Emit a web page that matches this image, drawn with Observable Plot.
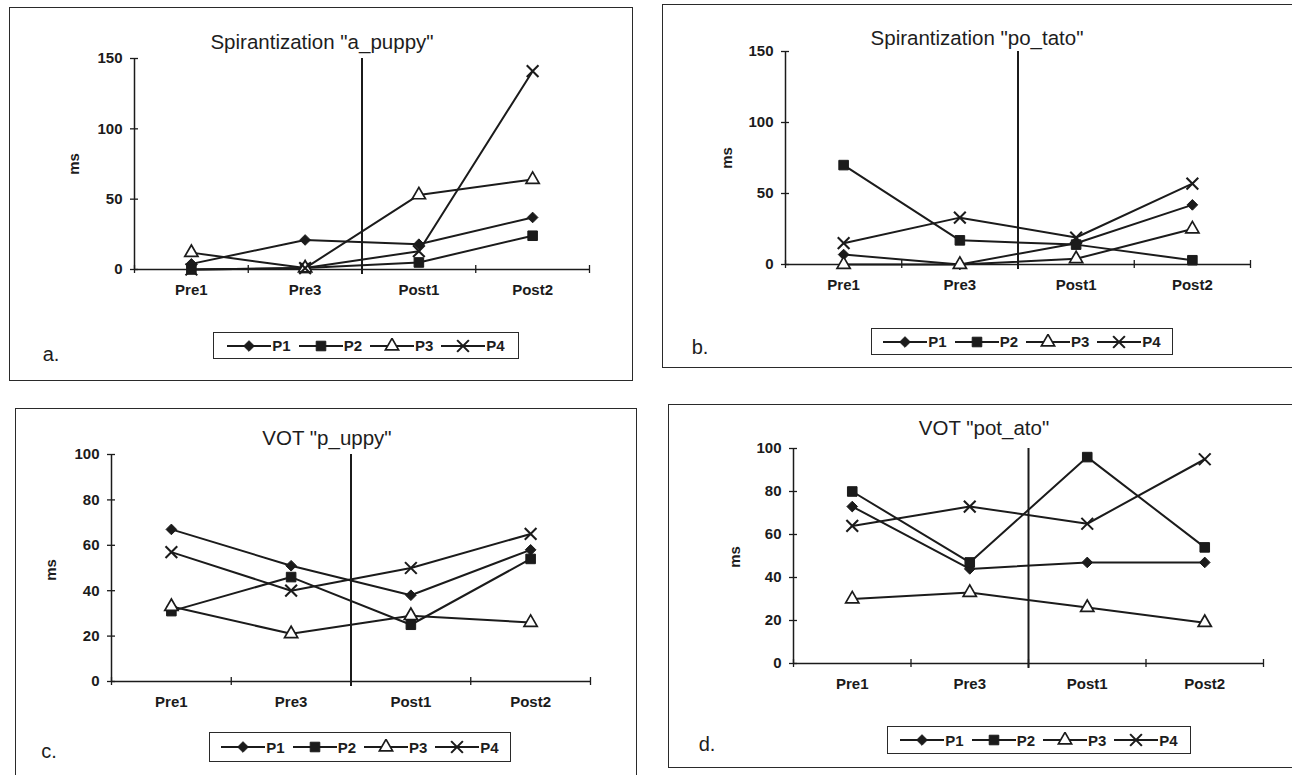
<!DOCTYPE html>
<html>
<head>
<meta charset="utf-8">
<script src="https://cdn.jsdelivr.net/npm/d3@7"></script>
<script src="https://cdn.jsdelivr.net/npm/@observablehq/plot@0.6"></script>
<style>
  body { margin: 0; background: #fff; }
  #root { position: relative; width: 1292px; height: 775px; overflow: hidden; background: #fff;
          font-family: 'Liberation Sans', Arial, Helvetica, sans-serif; color: #1d1d1d; }
  .box { position: absolute; border: 1.5px solid #2a2a2a; box-sizing: border-box; }
  .title { position: absolute; white-space: nowrap; font-size: 20.5px; transform: translate(-50%, -50%); }
  .letter { position: absolute; font-size: 20px; transform: translate(-50%, -50%); }
  .ms { position: absolute; font-size: 15px; font-weight: bold; transform: translate(-50%, -50%) rotate(-90deg); }
  .legend { position: absolute; border: 1.5px solid #2a2a2a; box-sizing: border-box; display: flex;
            align-items: center; justify-content: center; }
  .legend .item { display: flex; align-items: center; margin: 0 4px; }
  .legend span { font-size: 15px; font-weight: bold; margin-left: 1px; }
</style>
</head>
<body>
<div id="root"></div>
<script>
// ---------------- data ----------------
const categories = ["Pre1", "Pre3", "Post1", "Post2"];
const seriesNames = ["P1", "P2", "P3", "P4"];
const panelTitles = ['Spirantization "a_puppy"', 'Spirantization "po_tato"', 'VOT "p_uppy"', 'VOT "pot_ato"'];
const panelLetters = ["a.", "b.", "c.", "d."];
const axisLabel = "ms";

// rows: P1, P2, P3, P4 ; columns: Pre1, Pre3, Post1, Post2
const spirantizationPuppy = [[4, 21, 18, 37], [0, 1, 5, 24], [12, 1, 53, 64], [0, 1, 13, 141]];
const spirantizationPotato = [[7, 0, 15, 42], [70, 17, 14, 3], [0, 0, 4, 25], [15, 33, 19, 57]];
const votPuppy = [[67, 51, 38, 58], [31, 46, 25, 54], [33, 21, 29, 26], [57, 40, 50, 65]];
const votPotato = [[73, 44, 47, 47], [80, 47, 96, 54], [30, 33, 26, 19], [64, 73, 65, 95]];

const spirantizationTicks = [0, 50, 100, 150];
const votTicks = [0, 20, 40, 60, 80, 100];
const dividerAfter = "Pre3"; // vertical line between Pre3 and Post1

// ---------------- styling / layout ----------------
const ink = "#1b1b1b";
const markerStyles = [
  {symbol: "diamond2", d3: d3.symbolDiamond2, r: 4.8, fill: ink, stroke: ink, strokeWidth: 1},
  {symbol: "square", d3: d3.symbolSquare, r: 5.4, fill: ink, stroke: ink, strokeWidth: 1},
  {symbol: "triangle", d3: d3.symbolTriangle, r: 4.9, fill: "white", stroke: ink, strokeWidth: 1.7},
  {symbol: "times", d3: d3.symbolTimes, r: 5.4, fill: "none", stroke: ink, strokeWidth: 2.1}
];

const panelValues = [spirantizationPuppy, spirantizationPotato, votPuppy, votPotato];
const panelTicks = [spirantizationTicks, spirantizationTicks, votTicks, votTicks];

const layouts = [
  {box: [9, 7, 633, 381], plot: [134, 58, 589, 269], title: [322, 42], legend: [213, 332, 519, 359], letter: [51, 354], ms: [73, 164]},
  {box: [662, 4, 1300, 368], plot: [785, 51, 1250, 264], title: [977, 38], legend: [871, 328, 1173, 355], letter: [700, 347], ms: [726, 158]},
  {box: [15, 408, 637, 790], plot: [111, 454, 590, 681], title: [327, 438], legend: [209, 732, 511, 762], letter: [49, 751], ms: [50, 570]},
  {box: [668, 404, 1300, 768], plot: [793, 448, 1263, 663], title: [984, 428], legend: [887, 726, 1191, 754], letter: [707, 744], ms: [734, 557]}
];

const root = document.getElementById("root");
const W = 1292;

function place(cls, x, y, text) {
  const d = document.createElement("div");
  d.className = cls;
  d.style.left = x + "px";
  d.style.top = y + "px";
  if (text != null) d.textContent = text;
  root.appendChild(d);
  return d;
}

function legendSwatch(ms) {
  const w = 44, h = 16;
  const svg = d3.create("svg").attr("width", w).attr("height", h);
  svg.append("line").attr("x1", 0).attr("x2", w).attr("y1", h / 2).attr("y2", h / 2)
    .attr("stroke", ink).attr("stroke-width", 2);
  svg.append("path")
    .attr("d", d3.symbol(ms.d3, Math.PI * ms.r * ms.r)())
    .attr("transform", `translate(${w / 2},${h / 2})`)
    .attr("fill", ms.fill).attr("stroke", ms.stroke).attr("stroke-width", ms.strokeWidth);
  return svg.node();
}

panelValues.forEach((values, p) => {
  const L = layouts[p];
  const yTicks = panelTicks[p];
  const yMax = d3.max(yTicks);
  const n = categories.length;

  // panel frame
  const box = place("box", L.box[0], L.box[1]);
  box.style.width = (L.box[2] - L.box[0]) + "px";
  box.style.height = (L.box[3] - L.box[1]) + "px";

  // chart
  const svgLeft = L.box[0] + 2, svgTop = L.box[1] + 2;
  const svgWidth = Math.min(L.box[2], W) - 2 - svgLeft;
  const svgHeight = L.plot[3] - svgTop + 40;
  const rows = values.flatMap((vals, s) => vals.map((v, c) => ({series: seriesNames[s], cat: c, value: v})));
  const bounds = d3.range(n + 1).map(i => i - 0.5);
  const divider = categories.indexOf(dividerAfter) + 0.5;

  const marks = [
    Plot.ruleY([0], {stroke: ink, strokeWidth: 1.5}),
    Plot.ruleX([-0.5], {stroke: ink, strokeWidth: 1.5}),
    Plot.ruleY(yTicks, {x1: -0.5, x2: -0.5, insetLeft: -4, insetRight: -4, stroke: ink, strokeWidth: 1.3}),
    Plot.ruleX(bounds, {y1: 0, y2: 0, insetTop: -4, insetBottom: -4, stroke: ink, strokeWidth: 1.3}),
    Plot.ruleX([divider], {y1: yMax, y2: 0, insetBottom: -5, stroke: ink, strokeWidth: 2}),
    Plot.line(rows, {x: "cat", y: "value", z: "series", stroke: ink, strokeWidth: 2})
  ];
  seriesNames.forEach((s, si) => {
    const ms = markerStyles[si];
    marks.push(Plot.dot(rows.filter(d => d.series === s), {
      x: "cat", y: "value", symbol: ms.symbol, r: ms.r,
      fill: ms.fill, stroke: ms.stroke, strokeWidth: ms.strokeWidth
    }));
  });

  const chart = Plot.plot({
    width: svgWidth,
    height: svgHeight,
    marginLeft: L.plot[0] - svgLeft,
    marginRight: svgLeft + svgWidth - L.plot[2],
    marginTop: L.plot[1] - svgTop,
    marginBottom: svgTop + svgHeight - L.plot[3],
    x: {domain: [-0.5, n - 0.5], ticks: d3.range(n), tickFormat: i => categories[i], tickSize: 0, tickPadding: 15, label: null},
    y: {domain: [0, yMax], ticks: yTicks, tickSize: 0, tickPadding: 12, label: null},
    style: {fontFamily: "'Liberation Sans', Arial, sans-serif", fontSize: "15px", fontWeight: "bold", color: ink, background: "transparent", overflow: "visible"},
    marks
  });
  chart.style.position = "absolute";
  chart.style.left = svgLeft + "px";
  chart.style.top = svgTop + "px";
  root.appendChild(chart);

  // texts
  place("title", L.title[0], L.title[1], panelTitles[p]);
  place("letter", L.letter[0], L.letter[1], panelLetters[p]);
  place("ms", L.ms[0], L.ms[1], axisLabel);

  // legend
  const lg = place("legend", L.legend[0], L.legend[1]);
  lg.style.width = (L.legend[2] - L.legend[0]) + "px";
  lg.style.height = (L.legend[3] - L.legend[1]) + "px";
  seriesNames.forEach((s, si) => {
    const item = document.createElement("div");
    item.className = "item";
    item.appendChild(legendSwatch(markerStyles[si]));
    const t = document.createElement("span");
    t.textContent = s;
    item.appendChild(t);
    lg.appendChild(item);
  });
});
</script>
</body>
</html>
